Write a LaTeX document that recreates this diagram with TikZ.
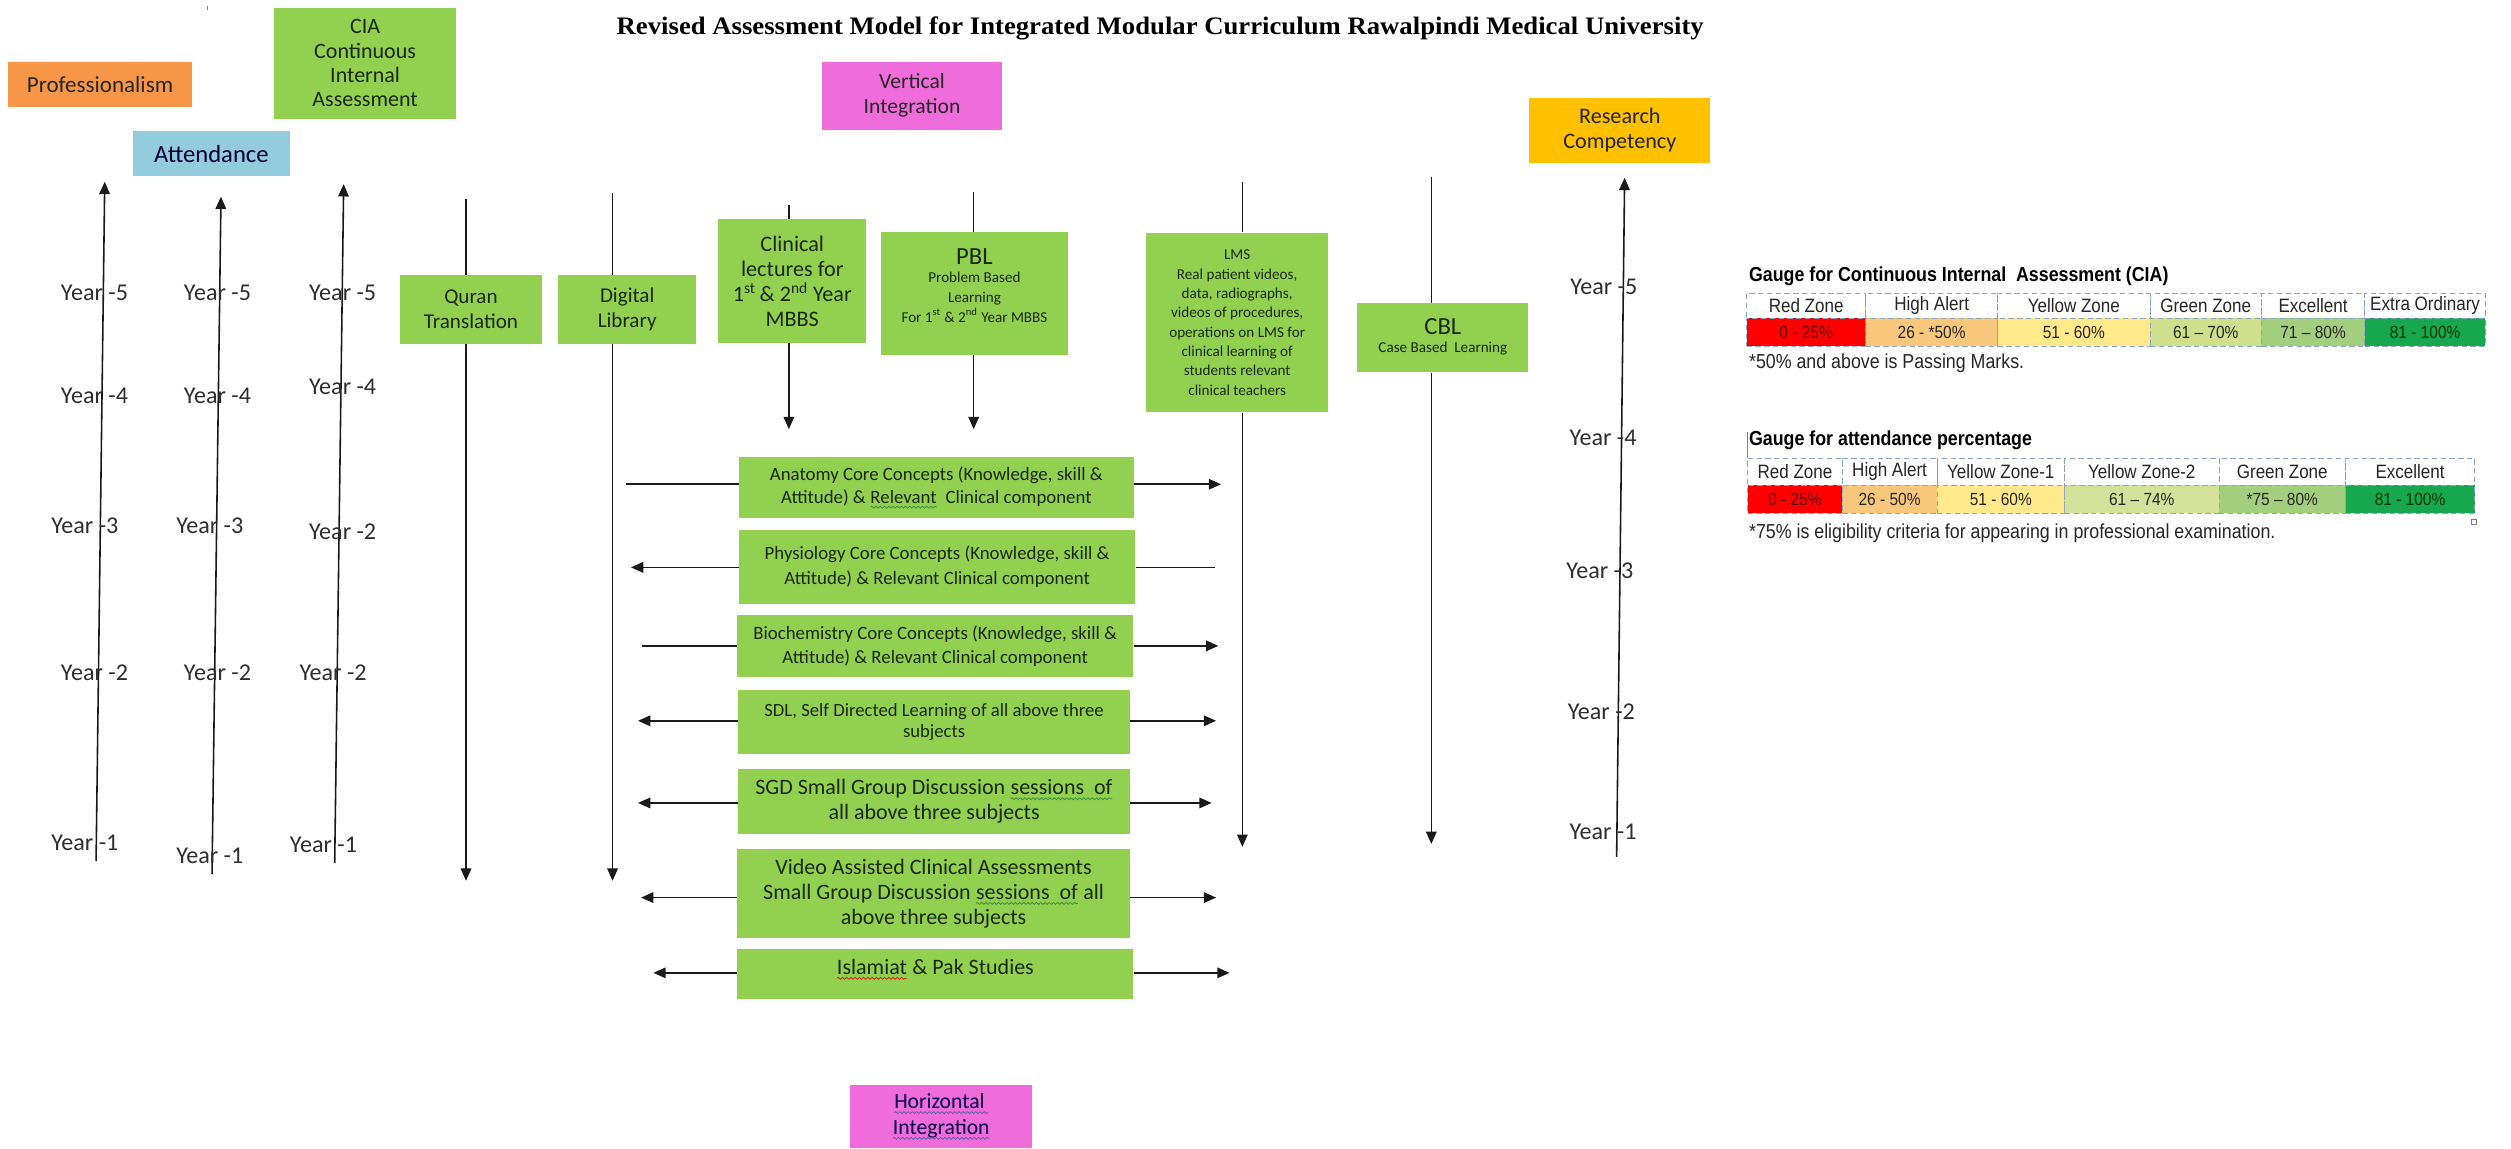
\documentclass[tikz,border=0pt]{standalone}
\usepackage{graphicx}
\usepackage{fontspec}
\setmainfont{Carlito}
\newfontfamily\titlefont{Liberation Serif}
\newfontfamily\narrowfont[FakeStretch=0.88]{Liberation Sans}
\usetikzlibrary{arrows.meta,decorations.pathmorphing}

\definecolor{boxgreen}{HTML}{92D050}
\definecolor{proforange}{HTML}{F79646}
\definecolor{attblue}{HTML}{93CDDD}
\definecolor{intpink}{HTML}{F06CDA}
\definecolor{resgold}{HTML}{FFC000}
\definecolor{boxtext}{HTML}{1C280E}
\definecolor{lncol}{HTML}{1A1A1A}
\definecolor{yearcol}{HTML}{2E2E2E}
\definecolor{tblborder}{HTML}{8AA4C4}
\definecolor{zred}{HTML}{FF0000}
\definecolor{zorange}{HTML}{F8C77B}
\definecolor{zyellow}{HTML}{FFE98A}
\definecolor{zlgreen}{HTML}{CFDF8C}
\definecolor{zmgreen}{HTML}{A3CE7E}
\definecolor{zdgreen}{HTML}{17A84F}
\definecolor{zygreen}{HTML}{D3E19A}
\definecolor{waveg}{HTML}{3C8C3C}
\definecolor{waver}{HTML}{D02020}
\definecolor{wavep}{HTML}{6060A8}

\newcommand\fs[2]{\fontsize{#1}{#2}\selectfont}
\newcommand\wv[2]{\tikz[baseline=(wv.base)]{\node[inner sep=0pt,outer sep=0pt,minimum width=0pt,minimum height=0pt,fill=none,draw=none,anchor=base] (wv) at (0,0) {#2};\draw[draw=#1,line width=0.45pt,decorate,decoration={snake,amplitude=0.55pt,segment length=2.4pt}] ([yshift=-2.3pt]wv.base west) -- ([yshift=-2.3pt]wv.base east);}}

\tikzset{
  bx/.style 2 args={minimum width=#1*0.032cm, minimum height=#2*0.032cm},
  box/.style={fill=boxgreen, draw=none, inner sep=0pt, align=center, text=boxtext},
  txt/.style={inner sep=0pt, align=center, text=boxtext},
  ln/.style={line width=0.9pt, draw=lncol},
  arr/.style={ln, -{Triangle[width=6pt,length=7pt]}},
  yl/.style={inner sep=0pt, text=yearcol, font=\fs{13.7}{15}},
  cell/.style={draw=tblborder, densely dashed, line width=0.45pt, inner sep=0pt, text=black!85, font=\narrowfont\fs{11}{12}},
  vcell/.style={cell, font=\narrowfont\fs{10}{11}},
  gnote/.style={inner sep=0pt, anchor=west, text=black!85, font=\narrowfont\fs{11.5}{13}},
}

\begin{document}
\begin{tikzpicture}[x=0.032cm,y=-0.032cm]
\fill[white] (0,0) rectangle (1568,717);
\useasboundingbox (0,0) rectangle (1568,717);

% title
\node[inner sep=0pt, font=\titlefont\bfseries\fs{14.3}{16}] (title) at (724.5,18)
  {\resizebox{618pt}{\height}{Revised Assessment Model for Integrated Modular Curriculum Rawalpindi Medical University}};
\draw[gray, line width=0.6pt] (129.6,3.5) -- (129.6,6.5);

% top labels
\node[box, bx={115}{28.5}, fill=proforange, text=black!85, font=\fs{13.1}{15}] (prof) at (62.5,52.75) {Professionalism};
\node[box, bx={114}{69}, font=\fs{12.5}{13.8}] (cia) at (228,39.5) {CIA\\Continuous\\Internal\\Assessment};
\node[box, bx={98}{28}, fill=attblue, text=black!80!blue, font=\fs{14}{15}] (att) at (132,96) {Attendance};
\node[box, bx={113}{42.5}, fill=intpink, text=black!85, font=\fs{12.3}{14.2}] (vert) at (569.5,59.75) {Vertical\\Integration};
\node[box, bx={113}{41}, fill=resgold, text=black!85, font=\fs{12.6}{14.2}] (res) at (1011.5,81.5) {Research\\Competency};
\node[box, bx={113.5}{39.5}, fill=intpink, text=black!70!blue, font=\fs{12.3}{14.6}] (horiz) at (587.75,697.25)
  {\wv{wavep}{Horizontal\,}\\\wv{wavep}{Integration}};

% year axes (left)
\coordinate (a1b) at (60,537.7);  \coordinate (a1t) at (65.4,113.5);
\coordinate (a2b) at (132.4,545.8); \coordinate (a2t) at (138,122.8);
\coordinate (a3b) at (209,539);   \coordinate (a3t) at (214.6,115);
\draw[arr] (a1b) -- (a1t);
\draw[arr] (a2b) -- (a2t);
\draw[arr] (a3b) -- (a3t);

\node[yl] (y15) at (59,183) {Year -5};
\node[yl] (y14) at (59,247) {Year -4};
\node[yl] (y13) at (53,328.5) {Year -3};
\node[yl] (y12) at (59,420) {Year -2};
\node[yl] (y11) at (53,526.5) {Year -1};

\node[yl] (y25) at (135.8,183) {Year -5};
\node[yl] (y24) at (135.8,247) {Year -4};
\node[yl] (y23) at (131,328.5) {Year -3};
\node[yl] (y22) at (135.8,420) {Year -2};
\node[yl] (y21) at (131,534.6) {Year -1};

\node[yl] (y35) at (214,183) {Year -5};
\node[yl] (y34) at (214,241.4) {Year -4};
\node[yl] (y33) at (214,332) {Year -2};
\node[yl] (y32) at (208,420) {Year -2};
\node[yl] (y31) at (202,527.7) {Year -1};

% research axis (right)
\coordinate (rb) at (1009.5,535); \coordinate (rt) at (1014.5,111);
\draw[arr] (rb) -- (rt);
\node[yl] (yr5) at (1001.5,179) {Year -5};
\node[yl] (yr4) at (1001,273.7) {Year -4};
\node[yl] (yr3) at (999,356.4) {Year -3};
\node[yl] (yr2) at (1000,444.4) {Year -2};
\node[yl] (yr1) at (1001,519.5) {Year -1};

% vertical integration columns
\node[box, bx={89.2}{43}, font=\fs{12}{14}] (quran) at (294.1,193.2) {Quran\\Translation};
\node[box, bx={86.3}{43}, font=\fs{12}{14}] (dig) at (391.65,193.2) {Digital\\Library};
\node[box, bx={92.5}{77}, font=\fs{12.6}{14.2}] (clin) at (494.75,175.5)
  {Clinical\\lectures for\\1\textsuperscript{st}\,\& 2\textsuperscript{nd} Year\\MBBS};
\node[box, bx={117}{76.7}] (pbl) at (608.5,183.35) {};
\node[txt, font=\fs{14}{16}] (pblt) at (608.5,160) {PBL};
\node[txt, font=\fs{8.6}{11.2}] (pbls) at (608.5,185.7) {Problem Based\\Learning\\For 1\textsuperscript{st} \& 2\textsuperscript{nd} Year MBBS};
\node[box, bx={113.9}{112.2}, font=\fs{8.6}{11}] (lms) at (772.55,201.4)
  {LMS\\Real patient videos,\\data, radiographs,\\videos of procedures,\\operations on LMS for\\clinical learning of\\students relevant\\clinical teachers};
\node[box, bx={106.8}{43}] (cbl) at (901,210.9) {};
\node[txt, font=\fs{14}{16}] (cblt) at (901,204) {CBL};
\node[txt, font=\fs{8.6}{10}] (cbls) at (901,217.5) {Case Based\ \ Learning};

\coordinate (qt) at (291,124.5);   \coordinate (qb) at (291,550);
\coordinate (dt) at (382.5,120.7); \coordinate (db) at (382.5,550);
\coordinate (ct) at (492.6,128);   \coordinate (cb) at (492.6,268);
\coordinate (pt) at (608,120);     \coordinate (pb) at (608,268);
\coordinate (lt) at (775.8,113.4); \coordinate (lb) at (775.8,528.8);
\coordinate (kt) at (893.8,110.3); \coordinate (kb) at (893.8,527);

\draw[ln] (qt) -- (qt |- quran.north);
\draw[arr] (qt |- quran.south) -- (qb);
\draw[ln] (dt) -- (dt |- dig.north);
\draw[arr] (dt |- dig.south) -- (db);
\draw[ln] (ct) -- (ct |- clin.north);
\draw[arr] (ct |- clin.south) -- (cb);
\draw[ln] (pt) -- (pt |- pbl.north);
\draw[arr] (pt |- pbl.south) -- (pb);
\draw[ln] (lt) -- (lt |- lms.north);
\draw[arr] (lt |- lms.south) -- (lb);
\draw[ln] (kt) -- (kt |- cbl.north);
\draw[arr] (kt |- cbl.south) -- (kb);

% horizontal integration rows
\node[box, bx={246.6}{38.1}, font=\fs{10.7}{12.8}] (anat) at (584.7,304.55)
  {Anatomy Core Concepts (Knowledge, skill \&\\Attitude) \& \wv{waveg}{Relevant}\ \ Clinical component};
\node[box, bx={247.6}{46}, font=\fs{10.7}{14}] (phys) at (585.2,354)
  {Physiology Core Concepts (Knowledge, skill \&\\Attitude) \& Relevant Clinical component};
\node[box, bx={247.5}{38.9}, font=\fs{10.7}{13.8}] (bio) at (584,403.35)
  {Biochemistry Core Concepts (Knowledge, skill \&\\Attitude) \& Relevant Clinical component};
\node[box, bx={244.6}{39.8}, font=\fs{10.6}{11.8}] (sdl) at (583.3,450.9)
  {SDL, Self Directed Learning of all above three\\subjects};
\node[box, bx={244.6}{40.7}, font=\fs{12.5}{14}] (sgd) at (583.3,500.35)
  {SGD Small Group Discussion \wv{waveg}{sessions\ \ of}\\all above three subjects};
\node[box, bx={245.3}{55.4}, font=\fs{12.5}{14.2}] (vid) at (582.95,558)
  {Video Assisted Clinical Assessments\\Small Group Discussion \wv{waveg}{sessions\ \ of} all\\above three subjects};
\node[box, bx={247.5}{31.2}, font=\fs{12.5}{14}] (isl) at (584,608.2) {};
\node[txt, font=\fs{12.5}{14}] (islt) at (584,605.3) {\wv{waver}{Islamiat} \& Pak Studies};

\coordinate (anl) at (391,302.4);   \coordinate (anr) at (762.5,302.4);
\coordinate (phl) at (394,354.3);   \coordinate (phr) at (758.6,354.3);
\coordinate (bil) at (401.2,403.3); \coordinate (bir) at (760.8,403.3);
\coordinate (sdll) at (398.4,450.1); \coordinate (sdlr) at (759.4,450.1);
\coordinate (sgdl) at (398.4,501.4); \coordinate (sgdr) at (756.6,501.4);
\coordinate (vidl) at (400.3,560.5); \coordinate (vidr) at (759.4,560.5);
\coordinate (isll) at (408,607.5);   \coordinate (islr) at (767.8,607.5);

\draw[ln] (anl) -- (anl -| anat.west);
\draw[arr] (anr -| anat.east) -- (anr);
\draw[arr] (phl -| phys.west) -- (phl);
\draw[ln] (phr) -- (phr -| phys.east);
\draw[ln] (bil) -- (bil -| bio.west);
\draw[arr] (bir -| bio.east) -- (bir);
\draw[arr] (sdll -| sdl.west) -- (sdll);
\draw[arr] (sdlr -| sdl.east) -- (sdlr);
\draw[arr] (sgdl -| sgd.west) -- (sgdl);
\draw[arr] (sgdr -| sgd.east) -- (sgdr);
\draw[arr] (vidl -| vid.west) -- (vidl);
\draw[arr] (vidr -| vid.east) -- (vidr);
\draw[arr] (isll -| isl.west) -- (isll);
\draw[arr] (islr -| isl.east) -- (islr);

% gauge for CIA
\node[gnote, font=\narrowfont\bfseries\fs{11.5}{13}, text=black] (gh1) at (1092,172.8) {Gauge for Continuous Internal\ \ Assessment (CIA)};
\node[cell, bx={74.3}{15.6}] (c11) at (1127.85,190.8) {Red Zone};
\node[cell, bx={82.4}{15.6}] (c12) at (1206.2,190.8) {High Alert};
\node[cell, bx={95.2}{15.6}] (c13) at (1295,190.8) {Yellow Zone};
\node[cell, bx={69.5}{15.6}] (c14) at (1377.35,190.8) {Green Zone};
\node[cell, bx={64.6}{15.6}] (c15) at (1444.4,190.8) {Excellent};
\node[cell, bx={75.3}{15.6}] (c16) at (1514.35,190.8) {Extra Ordinary};
\node[vcell, bx={74.3}{17.4}, fill=zred, text=black!60!red] (c21) at (1127.85,207.3) {0 - 25\%};
\node[vcell, bx={82.4}{17.4}, fill=zorange] (c22) at (1206.2,207.3) {26 - *50\%};
\node[vcell, bx={95.2}{17.4}, fill=zyellow] (c23) at (1295,207.3) {51 - 60\%};
\node[vcell, bx={69.5}{17.4}, fill=zlgreen] (c24) at (1377.35,207.3) {61 \textendash{} 70\%};
\node[vcell, bx={64.6}{17.4}, fill=zmgreen] (c25) at (1444.4,207.3) {71 \textendash{} 80\%};
\node[vcell, bx={75.3}{17.4}, fill=zdgreen, text=black!80!green] (c26) at (1514.35,207.3) {81 - 100\%};
\node[gnote] (gn1) at (1092,226.8) {*50\% and above is Passing Marks.};

% gauge for attendance
\draw[gray, line width=0.5pt] (1091.3,269.5) -- (1091.3,286);
\node[gnote, font=\narrowfont\bfseries\fs{11.5}{13}, text=black] (gh2) at (1092,274.8) {Gauge for attendance percentage};
\node[cell, bx={59.1}{17}] (d11) at (1120.85,294.5) {Red Zone};
\node[cell, bx={59.1}{17}] (d12) at (1179.95,294.5) {High Alert};
\node[cell, bx={79.8}{17}] (d13) at (1249.4,294.5) {Yellow Zone-1};
\node[cell, bx={96.3}{17}] (d14) at (1337.45,294.5) {Yellow Zone-2};
\node[cell, bx={79.1}{17}] (d15) at (1425.15,294.5) {Green Zone};
\node[cell, bx={80.5}{17}] (d16) at (1504.95,294.5) {Excellent};
\node[vcell, bx={59.1}{17.5}, fill=zred, text=black!60!red] (d21) at (1120.85,311.75) {0 - 25\%};
\node[vcell, bx={59.1}{17.5}, fill=zorange] (d22) at (1179.95,311.75) {26 - 50\%};
\node[vcell, bx={79.8}{17.5}, fill=zyellow] (d23) at (1249.4,311.75) {51 - 60\%};
\node[vcell, bx={96.3}{17.5}, fill=zygreen] (d24) at (1337.45,311.75) {61 \textendash{} 74\%};
\node[vcell, bx={79.1}{17.5}, fill=zmgreen] (d25) at (1425.15,311.75) {*75 \textendash{} 80\%};
\node[vcell, bx={80.5}{17.5}, fill=zdgreen, text=black!80!green] (d26) at (1504.95,311.75) {81 - 100\%};
\node[gnote] (gn2) at (1092,333) {*75\% is eligibility criteria for appearing in professional examination.};
\draw[gray, line width=0.4pt] (1543.5,324.3) rectangle (1546.5,327.3);

\end{tikzpicture}
\end{document}
